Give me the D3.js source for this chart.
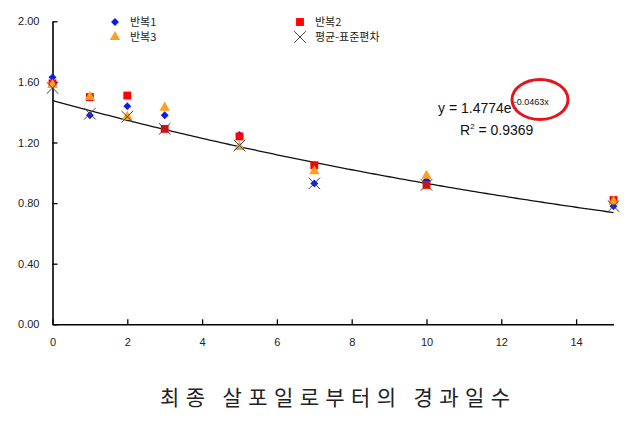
<!DOCTYPE html>
<html><head><meta charset="utf-8">
<script src="https://cdn.jsdelivr.net/npm/d3@7"></script>
<style>body{margin:0;background:#fff}svg{display:block}</style>
</head><body>
<svg id="c" width="639" height="422"></svg>
<script>
const days = [0, 1, 2, 3, 5, 7, 10, 15];
const rep1 = [1.63, 1.38, 1.44, 1.38, 1.25, 0.93, 0.95, 0.78];
const rep2 = [1.59, 1.50, 1.51, 1.29, 1.24, 1.05, 0.92, 0.82];
const rep3 = [1.58, 1.50, 1.37, 1.43, 1.17, 1.01, 0.98, 0.81];
const meanSd = [1.56, 1.39, 1.37, 1.29, 1.18, 0.93, 0.92, 0.78];
const seriesNames = ["반복1", "반복2", "반복3", "평균-표준편차"];
const xTicks = [0, 2, 4, 6, 8, 10, 12, 14];
const yTicks = [0, 0.4, 0.8, 1.2, 1.6, 2.0];
const trendA = 1.4774, trendB = -0.0463;
const r2 = "0.9369";
const xTitle = "최종 살포일로부터의 경과일수";

const svg = d3.select("#c");
const x = d3.scaleLinear().domain([0, 15]).range([52.5, 613.5]);
const y = d3.scaleLinear().domain([0, 2]).range([324.3, 21.3]);

const tickFont = "Liberation Sans, Arial, sans-serif";

// axes
const xAxis = svg.append("g").attr("transform", `translate(0,${y(0)})`)
  .call(d3.axisBottom(x).tickValues(xTicks).tickSizeInner(-5).tickSizeOuter(0).tickPadding(14).tickFormat(d3.format("d")));
const yAxis = svg.append("g").attr("transform", `translate(${x(0)},0)`)
  .call(d3.axisLeft(y).tickValues(yTicks).tickSizeInner(-5).tickSizeOuter(0).tickPadding(13).tickFormat(d3.format(".2f")));
[xAxis, yAxis].forEach(g => {
  g.select(".domain").attr("stroke", "#000").attr("stroke-width", 1.6);
  g.selectAll(".tick line").attr("stroke", "#000").attr("stroke-width", 1.3);
  g.selectAll(".tick text").attr("font-family", tickFont).attr("font-size", 11).attr("fill", "#222");
});

// trend line
const tx = d3.range(0, 15.001, 0.1);
svg.append("path")
  .datum(tx)
  .attr("fill", "none").attr("stroke", "#111").attr("stroke-width", 1.3)
  .attr("d", d3.line().x(d => x(d)).y(d => y(trendA * Math.exp(trendB * d))));

// markers
const diamond = d3.symbol().type(d3.symbolDiamond2).size(40);
const square = d3.symbol().type(d3.symbolSquare).size(62);
const triangle = d3.symbol().type(d3.symbolTriangle).size(48);
const cross = d3.symbol().type(d3.symbolTimes).size(90);

const series = [
  {vals: rep1, sym: diamond, fill: "#0a1cf0", stroke: null},
  {vals: rep2, sym: square, fill: "#ff0000", stroke: null},
  {vals: rep3, sym: triangle, fill: "#ffa020", stroke: null},
  {vals: meanSd, sym: cross, fill: "none", stroke: "#444"}
];
series.forEach(s => {
  svg.append("g").selectAll("path").data(days).join("path")
    .attr("transform", (d, i) => `translate(${x(d)},${y(s.vals[i])})`)
    .attr("d", s.sym())
    .attr("fill", s.fill)
    .attr("stroke", s.stroke || "none")
    .attr("stroke-width", 1);
});

// legend
const legPos = [[115, 22], [300, 22], [115, 37], [300, 37]];
series.forEach((s, i) => {
  const [lx, ly] = legPos[i];
  svg.append("path").attr("transform", `translate(${lx},${ly})`).attr("d", s.sym())
    .attr("fill", s.fill).attr("stroke", s.stroke || "none").attr("stroke-width", 1);
  svg.append("text").attr("x", lx + 15).attr("y", ly + 4)
    .attr("font-family", "Noto Sans CJK KR, sans-serif").attr("font-size", 11).attr("fill", "#222")
    .text(seriesNames[i]);
});

// equation
const eq = svg.append("text").attr("x", 438).attr("y", 113)
  .attr("font-family", tickFont).attr("font-size", 14).attr("fill", "#111");
eq.append("tspan").text(`y = ${trendA}e`);
eq.append("tspan").attr("dy", -8).attr("font-size", 9).text(`\u2212${Math.abs(trendB)}x`);
const r = svg.append("text").attr("x", 460).attr("y", 135)
  .attr("font-family", tickFont).attr("font-size", 14).attr("fill", "#111");
r.append("tspan").text("R");
r.append("tspan").attr("dy", -6).attr("font-size", 8).text("2");
r.append("tspan").attr("dy", 6).text(` = ${r2}`);

svg.append("ellipse").attr("cx", 540).attr("cy", 99.5).attr("rx", 28).attr("ry", 20)
  .attr("fill", "none").attr("stroke", "#e8141c").attr("stroke-width", 3);

// x title
svg.append("text").attr("x", 160).attr("y", 405)
  .attr("textLength", 350).attr("lengthAdjust", "spacing")
  .attr("font-family", "Noto Sans CJK KR, serif").attr("font-weight", 400).attr("font-size", 21).attr("fill", "#222")
  .text(xTitle);
</script>
</body></html>
